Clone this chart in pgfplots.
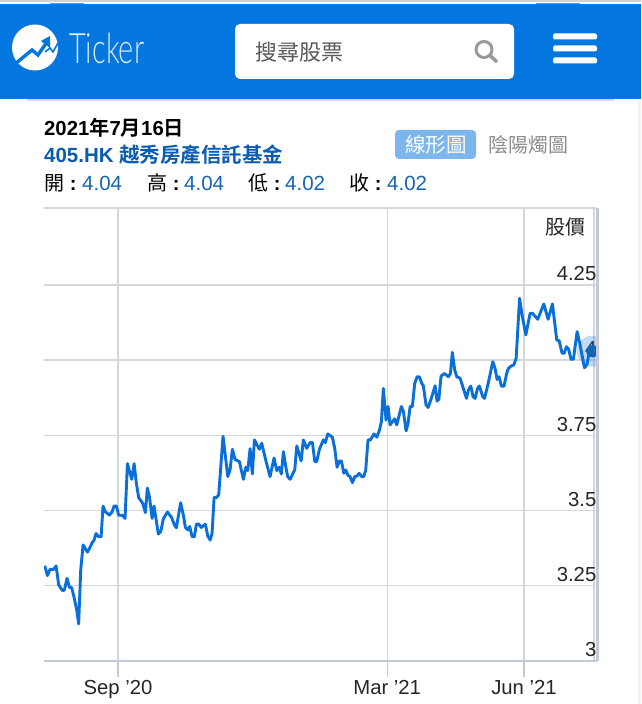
\documentclass[border=0pt]{standalone}
\usepackage{fontspec}
\usepackage{pgfplots}
\pgfplotsset{compat=1.18}
\setmainfont{Liberation Sans}
\newfontfamily\cjk{Noto Sans CJK TC}
\newfontfamily\cjkb{Noto Sans CJK TC}[BoldFont={* Bold}]
\newfontfamily\logofont{Lato Light}
\definecolor{barblue}{HTML}{0476E0}
\definecolor{gridc}{HTML}{D4D6DA}
\definecolor{axisc}{HTML}{C2CAD8}
\definecolor{lineb}{HTML}{0A6FD8}
\definecolor{linkb}{HTML}{0B5CB0}
\definecolor{numb}{HTML}{1565B5}
\definecolor{btn}{HTML}{7DB6EC}
\pgfplotstableread{
day price
-49.3 3.317
-47.5 3.284
-45.7 3.305
-43.5 3.304
-41.7 3.316
-39.9 3.253
-37.4 3.234
-36.1 3.236
-34.3 3.275
-32.7 3.245
-31.2 3.244
-29.4 3.208
-27.8 3.170
-26.5 3.123
-25.1 3.303
-23.5 3.386
-20.6 3.362
-18.8 3.378
-17.5 3.393
-16.1 3.402
-14.8 3.424
-13.0 3.413
-11.4 3.413
-10.1 3.515
-8.5 3.496
-5.8 3.485
-4.0 3.496
-2.7 3.515
-1.1 3.515
0.4 3.485
3.1 3.484
4.7 3.474
6.3 3.656
9.2 3.604
10.8 3.656
12.3 3.591
13.9 3.543
16.6 3.524
18.4 3.493
19.7 3.575
21.1 3.546
22.9 3.474
24.2 3.515
27.1 3.422
28.7 3.430
30.5 3.474
33.2 3.495
35.9 3.478
37.9 3.452
39.2 3.443
42.1 3.526
43.9 3.485
45.3 3.444
46.9 3.436
48.2 3.447
49.8 3.413
51.3 3.413
52.7 3.455
54.2 3.455
56.0 3.444
58.7 3.455
60.3 3.416
61.9 3.402
63.2 3.424
64.6 3.544
66.4 3.544
67.7 3.553
70.6 3.747
73.8 3.613
75.3 3.635
76.9 3.704
78.7 3.670
81.6 3.663
84.3 3.604
85.9 3.644
87.2 3.633
88.8 3.706
90.3 3.622
91.7 3.735
95.0 3.704
96.6 3.724
99.3 3.668
102.2 3.613
104.9 3.675
106.7 3.633
108.3 3.644
109.8 3.622
111.2 3.696
113.0 3.640
114.1 3.613
115.7 3.604
118.8 3.635
120.2 3.715
123.1 3.665
124.6 3.735
126.9 3.707
129.1 3.726
130.7 3.726
132.3 3.663
133.6 3.663
135.4 3.704
138.1 3.735
139.4 3.726
141.0 3.755
144.1 3.744
145.7 3.707
147.3 3.644
148.8 3.665
150.2 3.665
151.8 3.624
153.1 3.635
154.5 3.618
156.0 3.613
157.6 3.593
159.2 3.613
160.7 3.615
162.1 3.624
163.9 3.613
165.2 3.613
166.5 3.633
168.1 3.735
169.7 3.735
172.2 3.755
174.0 3.744
175.7 3.766
177.1 3.796
178.4 3.906
180.2 3.801
181.6 3.846
182.9 3.785
186.0 3.805
187.4 3.785
190.5 3.846
191.9 3.829
193.7 3.765
195.0 3.790
196.4 3.846
197.9 3.846
199.5 3.923
201.1 3.945
202.6 3.945
204.2 3.923
205.3 3.915
207.1 3.851
208.5 3.843
210.3 3.868
213.2 3.915
214.5 3.864
215.7 3.870
217.2 3.947
219.5 3.956
222.1 3.945
223.5 3.956
224.8 4.026
226.4 3.967
227.8 3.945
230.0 3.940
232.2 3.906
234.3 3.873
235.6 3.901
237.2 3.914
238.7 3.879
240.1 3.873
241.7 3.906
243.0 3.914
245.2 3.879
246.4 3.873
248.4 3.912
252.0 3.995
253.5 3.973
254.9 3.936
256.2 3.945
257.8 3.914
259.6 3.914
261.2 3.954
262.5 3.973
264.5 3.981
266.1 3.984
267.7 4.006
270.0 4.206
271.5 4.156
274.2 4.084
277.1 4.156
278.7 4.156
282.2 4.136
286.3 4.187
289.2 4.136
292.1 4.187
295.0 4.067
296.6 4.065
298.6 4.023
300.0 4.023
301.5 4.045
303.0 4.036
304.6 4.003
306.2 4.003
308.7 4.095
310.7 4.051
312.0 4.017
313.6 3.975
315.2 3.984
317.0 4.028
319.0 4.030
}\pricetable
\begin{document}
\begin{tikzpicture}[x=1pt,y=1pt]
\useasboundingbox (0,0) rectangle (641,704);
\fill[white] (0,0) rectangle (641,704);
\begin{scope}[shift={(0,704)},yscale=-1]
  % page chrome
  \fill[gray!35] (0,0) rectangle (641,2.5);
  \fill[black!45] (50,3) rectangle (84,4.5);
  \fill[black!45] (536,3) rectangle (580,4.5);
  \fill[barblue] (0,4.5) rectangle (641,99);
  \fill[black!15] (27,99) rectangle (614,101);
  \fill[black!5] (638,101) rectangle (641,704);
  % logo
  \fill[white] (35,47.5) circle (23);
  \draw[barblue,line width=3.4,line join=miter] (15,64) -- (32,50) -- (38,55) -- (47,42);
  \fill[barblue] (50,36) -- (50,48) -- (41,41) -- cycle;
  \draw[barblue,line width=1.6] (45,52) -- (50,48) -- (53,52) -- (58,43);
  % search box
  \fill[white,rounded corners=5] (235,24) rectangle (514,79);
  \draw[black!40,line width=3] (484,49.5) circle (8);
  \draw[black!40,line width=3.5] (490,55.5) -- (497,62);
  % hamburger
  \fill[white,rounded corners=2] (553,33.5) rectangle (597,39.5);
  \fill[white,rounded corners=2] (553,45.5) rectangle (597,51.5);
  \fill[white,rounded corners=2] (553,57.5) rectangle (597,63.5);
  % toggle button
  \fill[btn,rounded corners=4] (395,130) rectangle (476,159);
  % chart frame lying under the axis contents
  \draw[gridc,line width=1.4] (44,208) -- (596,208);
  \draw[gridc,line width=1.4] (594,208) -- (594,661);
\end{scope}
\node[anchor=west,white!85!barblue,inner sep=0] at (69,704-48)
  {\scalebox{0.69}[1]{\fontsize{42}{42}\logofont Ticker}};
\node[anchor=west,inner sep=0,black!65] at (255,704-52) {\fontsize{22}{22}\cjk 搜尋股票};
\node[anchor=west,inner sep=0,white] at (405,704-145) {\fontsize{20.5}{20.5}\cjk 線形圖};
\node[anchor=west,inner sep=0,black!45] at (488,704-145) {\fontsize{20}{20}\cjk 陰陽燭圖};
\node[anchor=west,inner sep=0,black] at (44,704-128) {\fontsize{20.3}{20.3}\selectfont\bfseries 2021{\cjkb\bfseries 年}7{\cjkb\bfseries 月}16{\cjkb\bfseries 日}};
\node[anchor=west,inner sep=0,linkb] at (44,704-155) {\fontsize{20.5}{20.5}\selectfont\bfseries 405.HK {\cjkb\bfseries 越秀房產信託基金}};
\foreach \xa/\xb/\lab/\val in {44/82/開/4.04,147/184/高/4.04,248/285/低/4.02,349/387/收/4.02}{
  \node[anchor=west,inner sep=0,black] at (\xa,704-183) {\fontsize{20}{20}\selectfont{\cjk\lab} \bfseries:};
  \node[anchor=west,inner sep=0,numb] at (\xb,704-183) {\fontsize{20.5}{20.5}\selectfont\val};
}
\begin{axis}[
  at={(44pt,43pt)},anchor=south west,
  scale only axis,width=552pt,height=453pt,
  xmin=-49.8,xmax=321.4,ymin=3,ymax=4.506,
  axis line style={draw=none},
  xtick={0,181,273},
  xticklabels={Sep '20,Mar '21,Jun '21},
  xtick pos=lower,
  ytick={3,3.25,3.5,3.75,4,4.25},
  yticklabels={3,3.25,3.5,3.75,4,4.25},
  yticklabel pos=right,
  grid=major,
  grid style={gridc,line width=1.4pt},
  major tick length=16pt,
  tick align=outside,
  x tick style={axisc,line width=1.2pt},
  ytick style={draw=none},
  xticklabel style={font=\fontsize{20.3}{20.3}\selectfont,inner sep=0pt,yshift=-3pt,text=black!85},
  yticklabel style={font=\fontsize{20.3}{20.3}\selectfont,anchor=south east,inner sep=0pt,xshift=-15.5pt,yshift=4pt,text=black!85},
  /pgf/number format/assume math mode=true,
  clip marker paths=true,
]
\addplot[lineb,line width=2.9pt,line join=round] table[x=day,y=price] {\pricetable};
\addplot[only marks,mark=*,mark size=15.5pt,mark options={draw=lineb,draw opacity=0,fill=lineb,fill opacity=0.25}] coordinates {(319,4.030)};
\addplot[only marks,mark=*,mark size=6pt,mark options={draw=numb,fill=numb}] coordinates {(319,4.030)};
\end{axis}
\begin{scope}[shift={(0,704)},yscale=-1]
  \draw[axisc,line width=2] (44,661.5) -- (597,661.5);
  \draw[axisc,line width=2.2] (597.5,208) -- (597.5,661);
\end{scope}
\node[anchor=east,inner sep=0,black!85] at (586,704-227) {\fontsize{20}{20}\cjk 股價};
\end{tikzpicture}
\end{document}
